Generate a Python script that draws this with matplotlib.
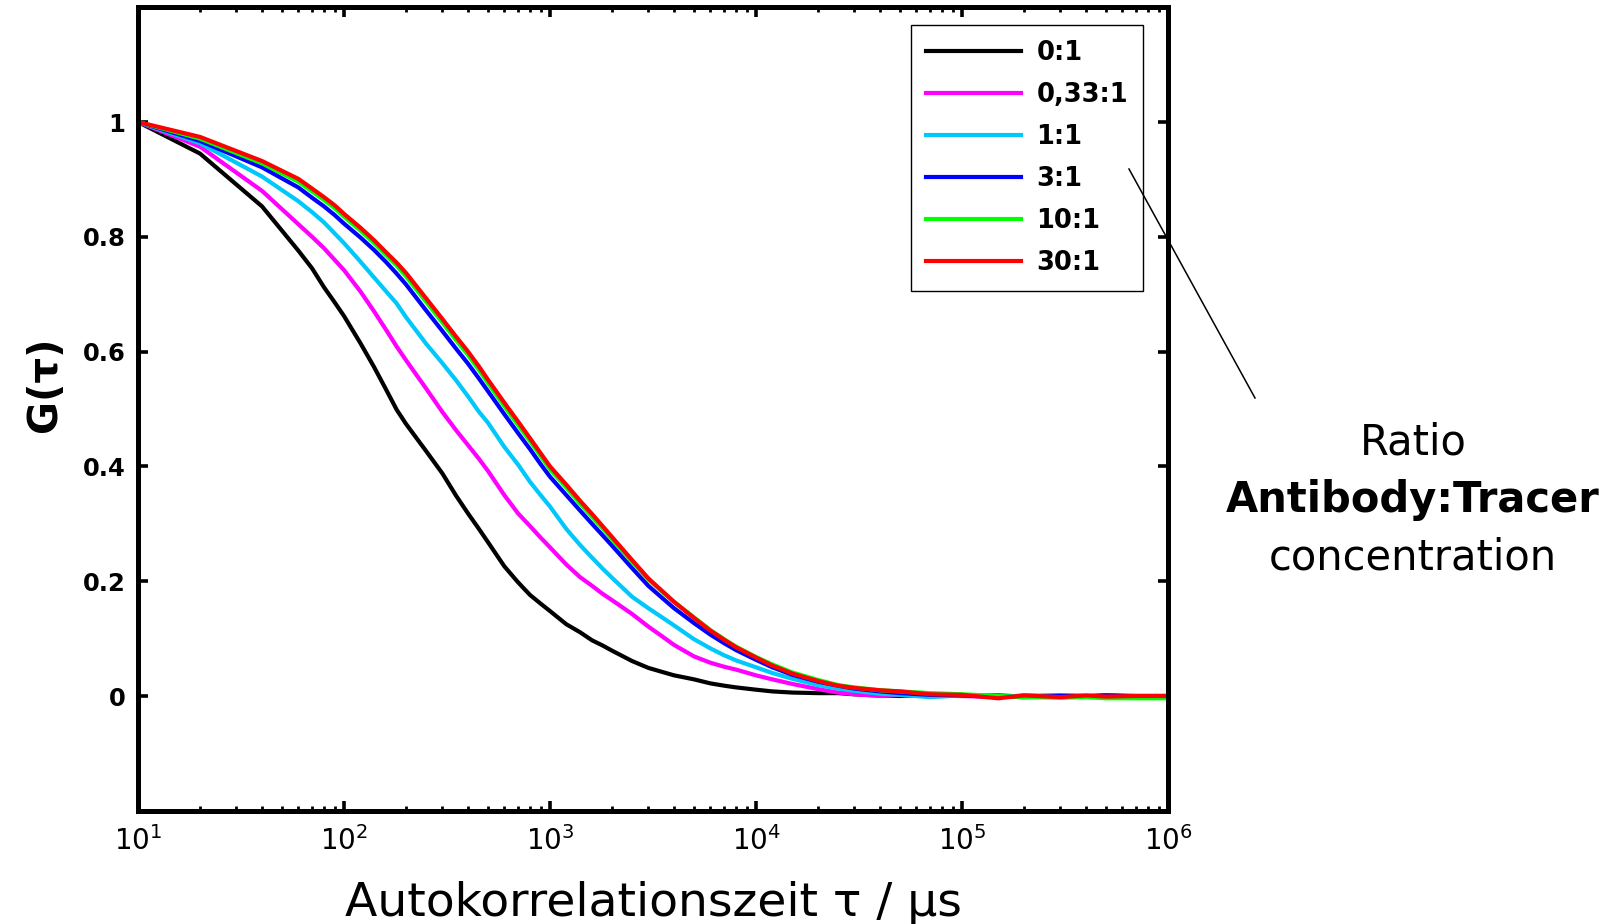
import matplotlib
matplotlib.use("Agg")
import matplotlib.pyplot as plt
from matplotlib.lines import Line2D
from matplotlib.ticker import LogLocator, NullFormatter

FONT = ["DejaVu Sans"]
plt.rcParams["font.family"] = FONT
plt.rcParams["mathtext.fontset"] = "dejavusans"
plt.rcParams["mathtext.default"] = "regular"

# Lag times of the correlator (microseconds)
tau_us = [10, 20, 40, 60, 70, 80, 90, 100,
          120, 140, 160, 180, 200,
          250, 300, 350, 400, 450, 500,
          600, 700, 800, 900, 1000,
          1200, 1400, 1600, 1800, 2000,
          2500, 3000, 3500, 4000,
          5000, 6000, 7000, 8000,
          10000, 12000, 15000,
          20000, 25000, 30000,
          40000, 50000, 70000,
          100000, 150000, 200000,
          300000, 400000, 500000,
          700000, 1000000]

# Normalised autocorrelation G(tau) for each antibody:tracer ratio
g_0_1 = [1.000, 0.945, 0.853, 0.776, 0.745, 0.712, 0.686, 0.662,
         0.615, 0.573, 0.534, 0.499, 0.474,
         0.427, 0.388, 0.349, 0.318, 0.292, 0.268,
         0.226, 0.198, 0.176, 0.161, 0.148,
         0.125, 0.111, 0.097, 0.088, 0.079,
         0.061, 0.049, 0.042, 0.036,
         0.029, 0.022, 0.018, 0.015,
         0.011, 0.008, 0.006,
         0.005, 0.005, 0.003,
         0.001, 0.000, 0.002,
         0.000, 0.001, -0.001,
         0.001, 0.000, 0.001,
         0.000, 0.000]

g_033_1 = [1.000, 0.957, 0.880, 0.822, 0.800, 0.780, 0.760, 0.742,
           0.705, 0.670, 0.638, 0.609, 0.585,
           0.536, 0.495, 0.463, 0.437, 0.414, 0.392,
           0.350, 0.318, 0.296, 0.276, 0.259,
           0.229, 0.207, 0.192, 0.178, 0.167,
           0.143, 0.121, 0.104, 0.089,
           0.069, 0.058, 0.051, 0.046,
           0.036, 0.029, 0.021,
           0.012, 0.006, 0.003,
           0.000, 0.002, 0.001,
           0.000, -0.002, 0.001,
           0.000, -0.001, 0.001,
           0.000, 0.000]

g_1_1 = [1.000, 0.963, 0.905, 0.862, 0.843, 0.825, 0.806, 0.789,
         0.757, 0.729, 0.705, 0.684, 0.660,
         0.614, 0.580, 0.550, 0.522, 0.496, 0.476,
         0.434, 0.403, 0.373, 0.350, 0.330,
         0.291, 0.263, 0.241, 0.222, 0.206,
         0.173, 0.153, 0.137, 0.123,
         0.099, 0.083, 0.071, 0.062,
         0.050, 0.040, 0.030,
         0.019, 0.013, 0.009,
         0.004, 0.002, -0.002,
         0.001, 0.000, -0.001,
         0.001, 0.000, -0.001,
         0.000, 0.000]

g_3_1 = [1.000, 0.967, 0.921, 0.886, 0.868, 0.853, 0.838, 0.823,
         0.799, 0.777, 0.756, 0.736, 0.717,
         0.672, 0.636, 0.605, 0.579, 0.554, 0.531,
         0.491, 0.458, 0.430, 0.404, 0.382,
         0.350, 0.323, 0.300, 0.280, 0.262,
         0.223, 0.192, 0.171, 0.153,
         0.127, 0.107, 0.092, 0.080,
         0.063, 0.050, 0.037,
         0.025, 0.018, 0.013,
         0.008, 0.005, 0.002,
         0.001, -0.001, -0.002,
         0.000, -0.001, 0.001,
         -0.001, 0.000]

g_10_1 = [1.000, 0.971, 0.928, 0.896, 0.879, 0.864, 0.850, 0.835,
          0.811, 0.789, 0.768, 0.750, 0.731,
          0.687, 0.651, 0.620, 0.594, 0.569, 0.545,
          0.505, 0.472, 0.444, 0.418, 0.395,
          0.363, 0.335, 0.312, 0.292, 0.273,
          0.234, 0.203, 0.182, 0.164,
          0.137, 0.115, 0.099, 0.086,
          0.068, 0.055, 0.041,
          0.028, 0.019, 0.015,
          0.010, 0.008, 0.005,
          0.003, 0.000, -0.002,
          -0.003, -0.002, -0.004,
          -0.004, -0.004]

g_30_1 = [1.000, 0.974, 0.932, 0.901, 0.884, 0.869, 0.855, 0.840,
          0.816, 0.794, 0.773, 0.755, 0.737,
          0.693, 0.657, 0.626, 0.600, 0.575, 0.551,
          0.511, 0.478, 0.449, 0.423, 0.400,
          0.368, 0.340, 0.317, 0.296, 0.277,
          0.237, 0.205, 0.183, 0.164,
          0.136, 0.114, 0.098, 0.085,
          0.067, 0.053, 0.039,
          0.026, 0.018, 0.014,
          0.010, 0.008, 0.003,
          0.002, -0.004, 0.001,
          -0.002, 0.001, -0.001,
          0.000, 0.000]

series = [g_0_1, g_033_1, g_1_1, g_3_1, g_10_1, g_30_1]
series_labels = ["0:1", "0,33:1", "1:1", "3:1", "10:1", "30:1"]
series_colors = ["#000000", "#FF00FF", "#00C8FA", "#0000FF", "#00FF00", "#FF0000"]

x_ticks = [1e1, 1e2, 1e3, 1e4, 1e5, 1e6]
x_tick_labels = [r"$10^{1}$", r"$10^{2}$", r"$10^{3}$",
                 r"$10^{4}$", r"$10^{5}$", r"$10^{6}$"]
y_ticks = [0, 0.2, 0.4, 0.6, 0.8, 1.0]
y_tick_labels = ["0", "0.2", "0.4", "0.6", "0.8", "1"]

W, H = 1614, 924
fig = plt.figure(figsize=(W / 100, H / 100), dpi=100)
ax = fig.add_axes([138 / W, (H - 810.8) / H, 1030 / W, 803.6 / H])

for g, lab, col in zip(series, series_labels, series_colors):
    ax.plot(tau_us, g, color=col, lw=3.0, label=lab, solid_joinstyle="round")

ax.set_xscale("log")
ax.set_xlim(10, 1e6)
ax.set_ylim(-0.2, 1.2)

ax.set_xticks(x_ticks)
ax.set_xticklabels(x_tick_labels, fontsize=20)
ax.xaxis.set_minor_locator(LogLocator(base=10, subs=range(2, 10), numticks=20))
ax.xaxis.set_minor_formatter(NullFormatter())
ax.set_yticks(y_ticks)
ax.set_yticklabels(y_tick_labels, fontsize=17.5, fontweight="bold")

for sp in ax.spines.values():
    sp.set_linewidth(3.6)
ax.tick_params(which="both", direction="in", top=True, right=True)
ax.tick_params(which="major", length=7, width=2.6)
ax.tick_params(which="minor", length=3.5, width=2.0)
ax.tick_params(axis="x", which="major", pad=11)
ax.tick_params(axis="y", which="major", pad=9)

ax.set_xlabel("Autokorrelationszeit τ / μs", fontsize=34, va="baseline")
ax.xaxis.set_label_coords(0.5, (8 - 113.2) / 803.6)
ax.set_ylabel("G(τ)", fontsize=29, fontweight="bold", va="center")
ax.yaxis.set_label_coords((45 - 138) / 1030, (H - 384 - 113.2) / 803.6)

leg = ax.legend(loc="upper left", bbox_to_anchor=(911 / W, 1 - 25 / H),
                bbox_transform=fig.transFigure, borderaxespad=0,
                frameon=True, fancybox=False, edgecolor="black", framealpha=1,
                borderpad=0.6, handlelength=3.7, handletextpad=0.58,
                labelspacing=0.62,
                prop={"family": FONT, "weight": "bold", "size": 18.5})
leg.get_frame().set_linewidth(1.0)
for h in leg.get_lines():
    h.set_linewidth(3.0)

# Pointer from the legend to the explanatory note
fig.add_artist(Line2D([1129 / W, 1255 / W], [1 - 169 / H, 1 - 398 / H],
                      transform=fig.transFigure, color="black", lw=1.1))

fig.text(1413 / W, 1 - 454 / H, "Ratio", ha="center", va="baseline", fontsize=30)
fig.text(1413 / W, 1 - 512 / H, "Antibody:Tracer", ha="center", va="baseline",
         fontsize=30, fontweight="bold")
fig.text(1413 / W, 1 - 569 / H, "concentration", ha="center", va="baseline",
         fontsize=30)

fig.savefig("out.png", dpi=100)
